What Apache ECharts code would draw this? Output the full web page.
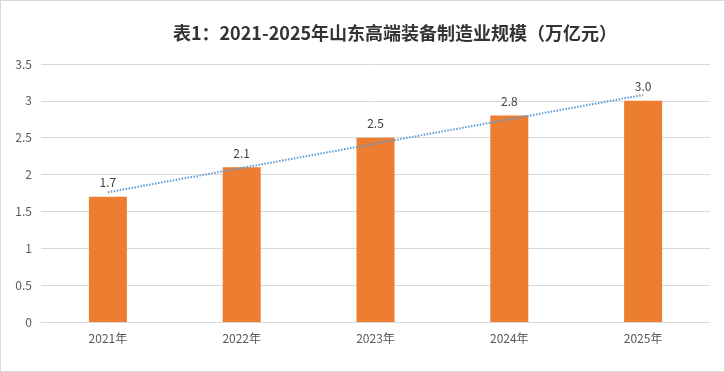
<!DOCTYPE html>
<html><head><meta charset="utf-8">
<script src="https://cdn.jsdelivr.net/npm/echarts@6/dist/echarts.min.js"></script>
<style>
html,body{margin:0;padding:0;background:#fff;}
#c{width:725px;height:372px;box-sizing:border-box;border:1px solid #d9d9d9;}
</style></head>
<body><div id="c"></div>
<script>
var categories = ['2021年','2022年','2023年','2024年','2025年'];
var values = [1.7, 2.1, 2.5, 2.8, 3.0];
var trendEnds = [1.76, 3.08]; // trendline read at first and last category
var yTicks = [0, 0.5, 1, 1.5, 2, 2.5, 3, 3.5];

var trendData = categories.map(function(c, i){
  if (i === 0) return trendEnds[0];
  if (i === categories.length - 1) return trendEnds[1];
  return '-';
});

var chart = echarts.init(document.getElementById('c'), null, {renderer:'canvas'});
var font = '"Noto Sans CJK SC", "Noto Sans", sans-serif';
chart.setOption({
  animation:false,
  title:{
    text:'表1：2021-2025年山东高端装备制造业规模（万亿元）',
    left:389, top:18, textAlign:'center',
    textStyle:{fontFamily:font, fontSize:18, fontWeight:'bold', color:'#333333'}
  },
  grid:{left:40, right:14, top:63, bottom:49},
  xAxis:{
    type:'category', data:categories,
    axisLine:{lineStyle:{color:'#d9d9d9'}},
    axisTick:{show:false},
    axisLabel:{color:'#595959', fontSize:12, fontFamily:font, margin:10}
  },
  yAxis:{
    type:'value', min:0, max:3.5, interval:0.5,
    axisLine:{show:false}, axisTick:{show:false},
    splitLine:{lineStyle:{color:'#d9d9d9'}},
    axisLabel:{color:'#595959', fontSize:12, fontFamily:font, margin:9,
      formatter:function(v){ return yTicks.indexOf(v) >= 0 ? String(v) : ''; }}
  },
  series:[
    {
      type:'bar', data:values, barWidth:38,
      itemStyle:{color:'#ED7D31'},
      label:{show:true, position:'top', distance:8, color:'#404040', fontSize:12, fontFamily:font,
        formatter:function(p){ return p.value.toFixed(1); }}
    },
    {
      type:'line', data:trendData, connectNulls:true, symbol:'none',
      lineStyle:{color:'#5B9BD5', width:2, type:[1.5,1.5]},
      z:5
    }
  ]
});
</script></body></html>
